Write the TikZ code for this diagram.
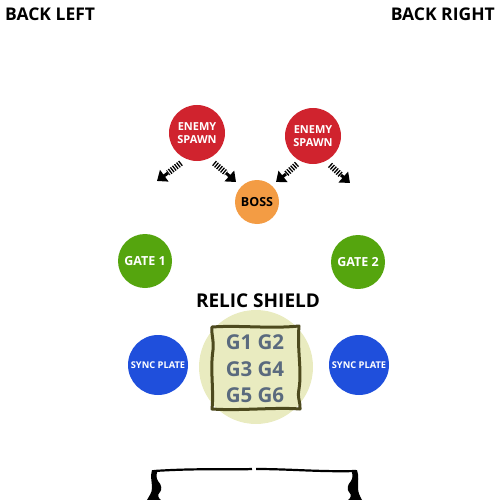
\documentclass[tikz,border=0pt]{standalone}
\usepackage{fontspec}
\setmainfont{Open Sans}
\usetikzlibrary{decorations.pathmorphing,arrows.meta}
\definecolor{spawnred}{HTML}{D0232E}
\definecolor{bossorange}{HTML}{F39C44}
\definecolor{gategreen}{HTML}{55A50E}
\definecolor{syncblue}{HTML}{1F4FDC}
\definecolor{shieldfill}{HTML}{E9EBC0}
\definecolor{shieldline}{HTML}{4D4A1E}
\definecolor{gtext}{HTML}{5A6A7E}
\tikzset{
  disc/.style={circle,inner sep=0pt,text=white,font=\bfseries,align=center},
  spawn/.style={disc,fill=spawnred,minimum size=56pt,font=\fontsize{11}{12.5}\selectfont\bfseries},
  boss/.style={disc,fill=bossorange,minimum size=44pt,text=black,font=\fontsize{12.5}{14}\selectfont\bfseries},
  gate/.style={disc,fill=gategreen,minimum size=54pt,font=\fontsize{12.5}{14}\selectfont\bfseries},
  sync/.style={disc,fill=syncblue,minimum size=60pt,font=\fontsize{9.3}{11}\selectfont\bfseries},
  corner/.style={font=\fontsize{17.5}{20}\selectfont\bfseries},
  stripe/.style={line width=6pt,dash pattern=on 1.3pt off 1.3pt,black},
  tip/.style={-{Triangle[length=9pt,width=14pt]},line width=3pt,black},
  glabel/.style={text=gtext,font=\fontsize{20.5}{24}\selectfont\bfseries}
}
\begin{document}
\begin{tikzpicture}[x=1pt,y=-1pt]
\useasboundingbox (0,0) rectangle (500,500);
\node[corner,anchor=west,inner sep=0pt] (bl) at (5,14) {BACK LEFT};
\node[corner,anchor=east,inner sep=0pt] (br) at (495,14) {BACK RIGHT};

\node[spawn] (s1) at (197,133) {ENEMY\\SPAWN};
\node[spawn] (s2) at (313,136) {ENEMY\\SPAWN};
\node[boss] (boss) at (257,202) {BOSS};
\node[gate] (g1) at (145,261) {GATE 1};
\node[gate] (g2) at (358,262) {GATE 2};

% striped arrows
\coordinate (a1s) at (181,163); \coordinate (a1m) at (168,173); \coordinate (a1e) at (157,181);
\coordinate (a2s) at (214,163); \coordinate (a2m) at (226,173); \coordinate (a2e) at (236,182);
\coordinate (a3s) at (297,164); \coordinate (a3m) at (286,174); \coordinate (a3e) at (276,182);
\coordinate (a4s) at (330,165); \coordinate (a4m) at (341,175); \coordinate (a4e) at (350,183);
\foreach \s/\m/\e in {a1s/a1m/a1e,a2s/a2m/a2e,a3s/a3m/a3e,a4s/a4m/a4e}{
  \draw[stripe] (\s) -- (\m);
  \draw[tip] (\m) -- (\e);
}

\node[font=\fontsize{19}{22}\selectfont\bfseries] (rs) at (258,301) {RELIC SHIELD};
\node[circle,fill=shieldfill,minimum size=114pt,inner sep=0pt] (shield) at (256,367) {};
\draw[shieldline,line width=3pt,line join=round]
  (212,327) .. controls (240,325) and (270,329) .. (299,326)
  .. controls (297,350) and (302,370) .. (299,389)
  .. controls (297,398) and (301,404) .. (300,409)
  .. controls (275,407) and (240,411) .. (212,409)
  .. controls (214,390) and (210,370) .. (213,350)
  .. controls (214,340) and (211,333) .. (212,327) -- cycle;
\node[glabel] (r1) at (255,342) {G1 G2};
\node[glabel] (r2) at (255,369) {G3 G4};
\node[glabel] (r3) at (255,395) {G5 G6};

\node[sync] (p1) at (158,365) {SYNC PLATE};
\node[sync] (p2) at (359,365) {SYNC PLATE};

% bottom bracket
\draw[line width=2.2pt,black] (154,471) .. controls (200,468) and (230,470) .. (252,469);
\draw[line width=2.2pt,black] (256,469) .. controls (290,469) and (320,472) .. (356,471);
\fill[black] (152,470) -- (158,470) .. controls (156,474) and (156,478) .. (158,481)
  .. controls (162,485) and (162,490) .. (160,492)
  .. controls (157,495) and (158,498) .. (161,500) -- (147,500)
  .. controls (149,496) and (152,493) .. (152,488)
  .. controls (152,482) and (150,476) .. (152,470) -- cycle;
\fill[black] (357,470) -- (351,470) .. controls (353,474) and (353,478) .. (351,481)
  .. controls (347,485) and (347,490) .. (349,492)
  .. controls (352,495) and (351,498) .. (348,500) -- (362,500)
  .. controls (360,496) and (358,493) .. (358,488)
  .. controls (358,482) and (359,476) .. (357,470) -- cycle;
\end{tikzpicture}
\end{document}
